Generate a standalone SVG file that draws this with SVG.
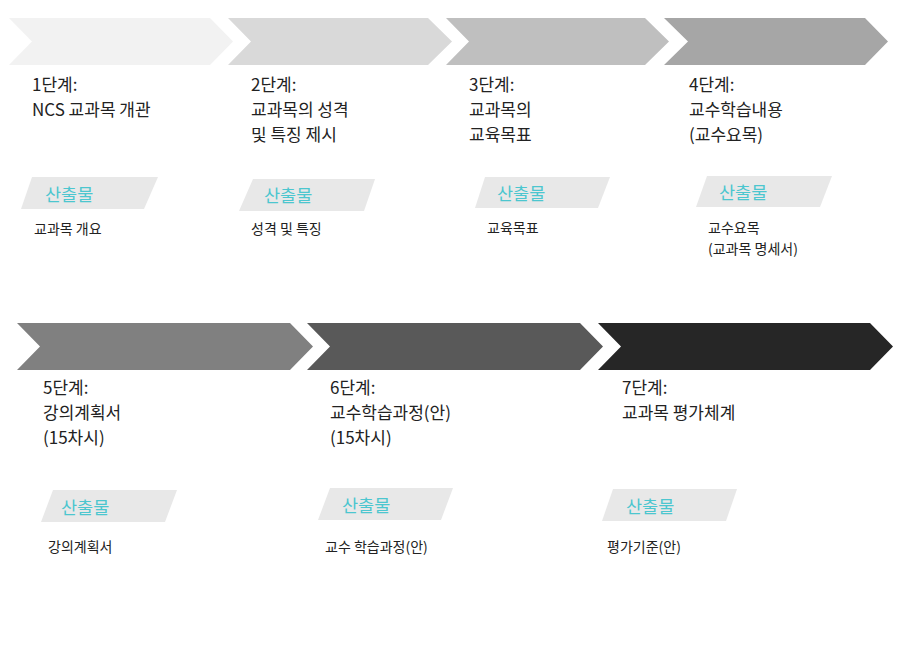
<svg xmlns="http://www.w3.org/2000/svg" width="900" height="652" viewBox="0 0 900 652">
<style>
text{font-family:"Noto Sans CJK KR","Noto Sans",sans-serif;fill:#222}
.t{font-size:17px}
.o{font-size:14px}
.p{fill:#e8e8e8}
.pl{font-size:17.5px;fill:#4cc6cf}
</style>
<rect width="900" height="652" fill="#fff"/>
<g id="connectors"></g>
<g id="step1">
<polygon points="9,18 210,18 233,41.5 210,65 9,65 32,41.5" fill="#f2f2f2"/>
<text class="t" x="32" y="91">1단계:</text>
<text class="t" x="32" y="116">NCS 교과목 개관</text>
<polygon class="p" points="32,177 158,177 144,209 21,209"/>
<text class="pl" x="45" y="201">산출물</text>
<text class="o" x="34" y="234">교과목 개요</text>
</g>
<g id="step2">
<polygon points="228,18 428,18 452,41.5 428,65 228,65 251,41.5" fill="#d9d9d9"/>
<text class="t" x="251" y="91">2단계:</text>
<text class="t" x="251" y="116">교과목의 성격</text>
<text class="t" x="251" y="141">및 특징 제시</text>
<polygon class="p" points="253,179 375,179 364,211 239,211"/>
<text class="pl" x="264" y="202">산출물</text>
<text class="o" x="251" y="234">성격 및 특징</text>
</g>
<g id="step3">
<polygon points="446,18 645,18 669,41.5 645,65 446,65 469,41.5" fill="#bfbfbf"/>
<text class="t" x="469" y="91">3단계:</text>
<text class="t" x="469" y="116">교과목의</text>
<text class="t" x="469" y="141">교육목표</text>
<polygon class="p" points="485,177 610,177 598,208 475,208"/>
<text class="pl" x="497" y="200">산출물</text>
<text class="o" x="487" y="233">교육목표</text>
</g>
<g id="step4">
<polygon points="664,18 865,18 888,41.5 865,65 664,65 688,41.5" fill="#a6a6a6"/>
<text class="t" x="689" y="91">4단계:</text>
<text class="t" x="689" y="116">교수학습내용</text>
<text class="t" x="689" y="141">(교수요목)</text>
<polygon class="p" points="707,176 832,176 820,207 696,207"/>
<text class="pl" x="719" y="199">산출물</text>
<text class="o" x="708" y="233">교수요목</text>
<text class="o" x="708" y="254">(교과목 명세서)</text>
</g>
<g id="step5">
<polygon points="17,323 290,323 313,346.5 290,370 17,370 40,346.5" fill="#808080"/>
<text class="t" x="43" y="394">5단계:</text>
<text class="t" x="43" y="419">강의계획서</text>
<text class="t" x="43" y="444">(15차시)</text>
<polygon class="p" points="53,490 177,490 165,522 41,522"/>
<text class="pl" x="61" y="514">산출물</text>
<text class="o" x="48" y="552">강의계획서</text>
</g>
<g id="step6">
<polygon points="307,323 580,323 603,346.5 580,370 307,370 330,346.5" fill="#595959"/>
<text class="t" x="330" y="394">6단계:</text>
<text class="t" x="330" y="419">교수학습과정(안)</text>
<text class="t" x="330" y="444">(15차시)</text>
<polygon class="p" points="330,488 453,488 441,520 318,520"/>
<text class="pl" x="342" y="512">산출물</text>
<text class="o" x="325" y="552">교수 학습과정(안)</text>
</g>
<g id="step7">
<polygon points="598,323 870,323 893,346.5 870,370 598,370 621,346.5" fill="#262626"/>
<text class="t" x="622" y="394">7단계:</text>
<text class="t" x="622" y="419">교과목 평가체계</text>
<polygon class="p" points="613,489 737,489 726,521 602,521"/>
<text class="pl" x="626" y="513">산출물</text>
<text class="o" x="607" y="552">평가기준(안)</text>
</g>
</svg>
